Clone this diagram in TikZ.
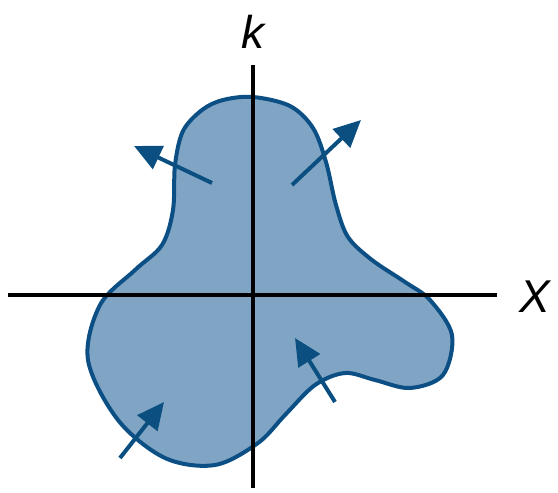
\documentclass[tikz,border=0pt]{standalone}
\usepackage{fontspec}
\setmainfont{Liberation Sans}
\usetikzlibrary{arrows.meta}
\definecolor{blobfill}{HTML}{7FA4C4}
\definecolor{blobline}{HTML}{0C4F85}
\definecolor{arrowcol}{HTML}{0A4F80}
\tikzset{
  axisline/.style={line width=4pt, black},
  normalarrow/.style={line width=4pt, arrowcol, -{Triangle[length=27pt,width=25pt]}},
  lbl/.style={font=\fontsize{46}{50}\selectfont\itshape, inner sep=0pt}
}
\begin{document}
\begin{tikzpicture}[x=1pt,y=-1pt]
\useasboundingbox (0,0) rectangle (558,493);
% blob
\draw[fill=blobfill, draw=blobline, line width=4pt]
  plot[smooth cycle, tension=0.55] coordinates {
  (253,97) (290,106) (313,128) (326,162) (336,205) (348,237) (372,260) (405,282) (430,300)
  (452,335) (443,375) (410,388) (375,380) (345,373) (315,385)
  (285,415) (258,443) (215,465) (165,458) (118,420) (88,360)
  (100,305) (135,270) (162,245) (173,210) (175,165) (183,131) (202,110) (223,100)};
% axes
\coordinate (xl) at (8,295);
\coordinate (xr) at (497,295);
\coordinate (yt) at (253,65);
\coordinate (yb) at (253,488);
\draw[axisline] (xl) -- (xr);
\draw[axisline] (yb) -- (yt);
\node[lbl] (k) at (253,32) {k};
\node[lbl] (X) at (535,297) {X};
% arrows
\coordinate (a1s) at (212,183); \coordinate (a1e) at (134,146);
\coordinate (a2s) at (292,185); \coordinate (a2e) at (361,120);
\coordinate (a3s) at (120,458); \coordinate (a3e) at (164,402);
\coordinate (a4s) at (335,402); \coordinate (a4e) at (295,338);
\draw[normalarrow] (a1s) -- (a1e);
\draw[normalarrow] (a2s) -- (a2e);
\draw[normalarrow] (a3s) -- (a3e);
\draw[normalarrow] (a4s) -- (a4e);
\end{tikzpicture}
\end{document}
